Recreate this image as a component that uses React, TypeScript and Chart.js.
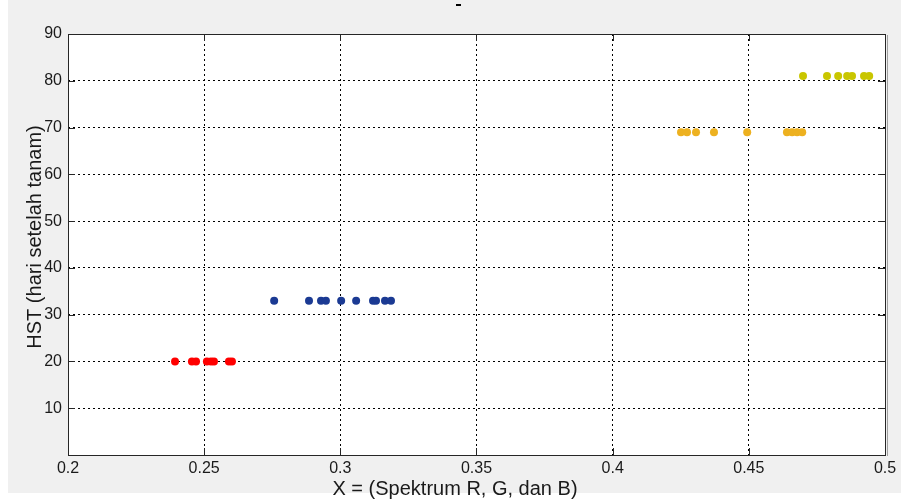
import React, { useEffect, useRef } from "react";
import { Chart, registerables } from "chart.js";

Chart.register(...registerables);

// ---- data ----
const redX = [0.2393, 0.2455, 0.247, 0.251, 0.2525, 0.2536, 0.2591, 0.2602];
const redY = [20, 20, 20, 20, 20, 20, 20, 20];
const blueX = [0.2757, 0.2885, 0.2929, 0.2947, 0.3003, 0.3058, 0.312, 0.3131, 0.3164, 0.3186];
const blueY = [33, 33, 33, 33, 33, 33, 33, 33, 33, 33];
const orangeX = [0.4251, 0.4273, 0.4306, 0.4372, 0.4494, 0.464, 0.4659, 0.4677, 0.4696];
const orangeY = [69, 69, 69, 69, 69, 69, 69, 69, 69];
const yellowX = [0.4699, 0.4787, 0.4828, 0.4861, 0.4879, 0.4923, 0.4942];
const yellowY = [81, 81, 81, 81, 81, 81, 81];

const xTickLabels = ["0.2", "0.25", "0.3", "0.35", "0.4", "0.45", "0.5"];
const yTickLabels = ["", "10", "20", "30", "40", "50", "60", "70", "80", "90"];

const xTitle = "X = (Spektrum R, G, dan B)";
const yTitle = "HST (hari setelah tanam)";

const FONT = "'Liberation Sans', Arial, sans-serif";

function pts(xs: number[], ys: number[]) {
  return xs.map((x, i) => ({ x, y: ys[i] }));
}

const framePlugin = {
  id: "matlabFrame",
  beforeDraw(chart: any) {
    const { ctx, chartArea: a, width, height } = chart;
    ctx.save();
    ctx.fillStyle = "#ffffff";
    ctx.fillRect(0, 0, width, height);
    ctx.fillStyle = "#f0f0f0";
    ctx.fillRect(8, 0, width - 8, 493);
    ctx.fillStyle = "#ffffff";
    ctx.fillRect(a.left, a.top, a.right - a.left, a.bottom - a.top);
    ctx.restore();
  },
  afterDatasetsDraw(chart: any) {
    const { ctx, chartArea: a, scales } = chart;
    ctx.save();
    // frame
    ctx.strokeStyle = "#262626";
    ctx.lineWidth = 1;
    ctx.strokeRect(a.left + 0.5, a.top + 0.5, a.right - a.left, a.bottom - a.top);
    ctx.strokeStyle = "#a0a0a0";
    ctx.beginPath();
    ctx.moveTo(a.right + 2.5, a.top + 1);
    ctx.lineTo(a.right + 2.5, a.bottom + 1);
    ctx.stroke();
    // inward ticks
    ctx.strokeStyle = "#262626";
    const tl = 7;
    scales.x.ticks.forEach((t: any) => {
      const px = Math.round(scales.x.getPixelForValue(t.value)) + 0.5;
      ctx.beginPath();
      ctx.moveTo(px, a.bottom);
      ctx.lineTo(px, a.bottom - tl);
      ctx.moveTo(px, a.top);
      ctx.lineTo(px, a.top + tl);
      ctx.stroke();
    });
    scales.y.ticks.forEach((t: any) => {
      const py = Math.round(scales.y.getPixelForValue(t.value)) + 0.5;
      ctx.beginPath();
      ctx.moveTo(a.left, py);
      ctx.lineTo(a.left + tl, py);
      ctx.moveTo(a.right, py);
      ctx.lineTo(a.right - tl, py);
      ctx.stroke();
    });
    // titles
    ctx.fillStyle = "#1a1a1a";
    ctx.font = `20px ${FONT}`;
    ctx.textAlign = "center";
    ctx.textBaseline = "middle";
    ctx.fillText(xTitle, 455, 489);
    ctx.translate(35, 237);
    ctx.rotate(-Math.PI / 2);
    ctx.fillText(yTitle, 0, 0);
    ctx.restore();
    // cut-off title remnant
    ctx.save();
    ctx.fillStyle = "#000000";
    ctx.fillRect(456, 4, 5, 2);
    ctx.restore();
  },
};

export default function App() {
  const ref = useRef<HTMLCanvasElement | null>(null);

  useEffect(() => {
    if (!ref.current) return;
    const mk = (data: any[], color: string) => ({
      data,
      backgroundColor: color,
      borderColor: color,
      borderWidth: 0,
      pointRadius: 4,
      pointHoverRadius: 4,
    });
    const chart = new Chart(ref.current, {
      type: "scatter",
      data: {
        datasets: [
          mk(pts(redX, redY), "#ff0000"),
          mk(pts(blueX, blueY), "#1b3a93"),
          mk(pts(orangeX, orangeY), "#edb120"),
          mk(pts(yellowX, yellowY), "#c9c600"),
        ],
      },
      options: {
        responsive: false,
        animation: false,
        layout: { padding: { left: 0, right: 16, top: 34, bottom: 0 } },
        plugins: { legend: { display: false }, tooltip: { enabled: false }, title: { display: false } },
        scales: {
          x: {
            type: "linear",
            min: 0.2,
            max: 0.5,
            ticks: {
              stepSize: 0.05,
              padding: 4,
              color: "#1a1a1a",
              font: { family: FONT, size: 16 },
              maxRotation: 0,
              autoSkip: false,
              callback: (_v: any, i: number) => xTickLabels[i],
            },
            grid: { color: "#000000", lineWidth: 1, drawTicks: false },
            border: { display: false, dash: [2, 3] },
            afterFit: (s: any) => {
              s.height = 44;
            },
          },
          y: {
            type: "linear",
            min: 0,
            max: 90,
            ticks: {
              stepSize: 10,
              padding: 6,
              color: "#1a1a1a",
              font: { family: FONT, size: 16 },
              autoSkip: false,
              callback: (_v: any, i: number) => yTickLabels[i],
            },
            grid: { color: "#000000", lineWidth: 1, drawTicks: false },
            border: { display: false, dash: [2, 3] },
            afterFit: (s: any) => {
              s.width = 68;
            },
          },
        },
      },
      plugins: [framePlugin],
    });
    return () => chart.destroy();
  }, []);

  return (
    <div style={{ position: "fixed", left: 0, top: 0, width: 901, height: 499 }}>
      <canvas ref={ref} width={901} height={499} style={{ width: 901, height: 499, display: "block" }} />
    </div>
  );
}
